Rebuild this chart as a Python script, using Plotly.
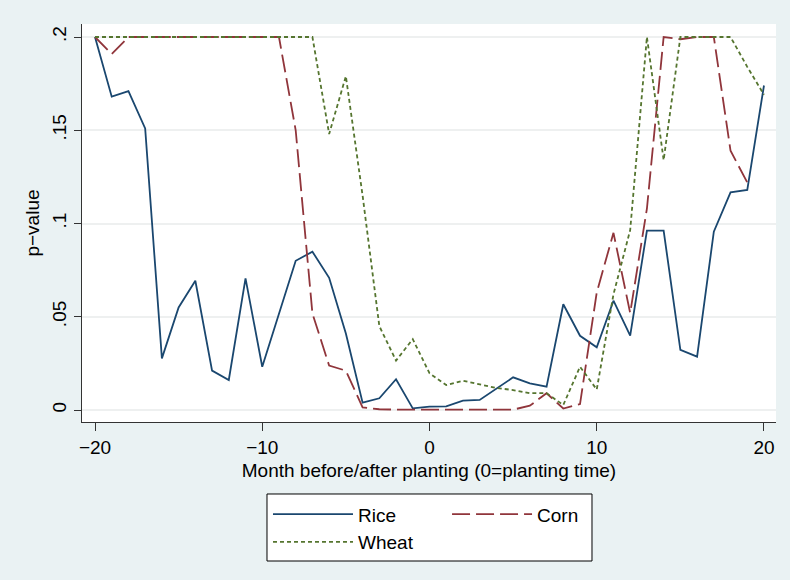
import plotly.graph_objects as go

months = list(range(-20, 21))

rice = [0.200, 0.168, 0.171, 0.151, 0.0277, 0.055, 0.0693, 0.0211, 0.0161, 0.0706,
        0.0232, 0.052, 0.080, 0.0849, 0.0709, 0.041, 0.0039, 0.0063, 0.0165, 0.0009,
        0.0018, 0.002, 0.005, 0.0054, 0.0114, 0.0175, 0.0143, 0.0125, 0.0567, 0.0398,
        0.0336, 0.0586, 0.0399, 0.0962, 0.0962, 0.0322, 0.0286, 0.0956, 0.1167, 0.118,
        0.174]

corn = [0.200, 0.1909, 0.200, 0.200, 0.200, 0.200, 0.200, 0.200, 0.200, 0.200,
        0.200, 0.200, 0.150, 0.0518, 0.0238, 0.0211, 0.0014, 0.0004, 0.0002, 0.0002,
        0.0002, 0.0002, 0.0001, 0.0001, 0.0001, 0.0002, 0.0023, 0.009, 0.0008, 0.0032,
        0.063, 0.095, 0.052, 0.108, 0.200, 0.1988, 0.200, 0.200, 0.139, 0.122,
        None]

wheat = [0.200, 0.200, 0.200, 0.200, 0.200, 0.200, 0.200, 0.200, 0.200, 0.200,
         0.200, 0.200, 0.200, 0.200, 0.148, 0.179, 0.115, 0.045, 0.0265, 0.038,
         0.0197, 0.0134, 0.0157, 0.0138, 0.0118, 0.0107, 0.009, 0.009, 0.0027, 0.0232,
         0.011, 0.062, 0.0965, 0.200, 0.134, 0.200, 0.200, 0.200, 0.200, 0.184,
         0.169]

x_ticks = [-20, -10, 0, 10, 20]
x_ticktext = ["\u221220", "\u221210", "0", "10", "20"]
y_ticks = [0, 0.05, 0.1, 0.15, 0.2]
y_ticktext = ["0", ".05", ".1", ".15", ".2"]

FONT = "Liberation Sans, Arial, sans-serif"

fig = go.Figure()
fig.add_trace(go.Scatter(x=months, y=rice, name="Rice", mode="lines",
                         legend="legend",
                         line=dict(color="#1A476F", width=1.8)))
fig.add_trace(go.Scatter(x=months, y=corn, name="Corn", mode="lines",
                         legend="legend2",
                         line=dict(color="#90353B", width=1.8, dash="18px,6px")))
fig.add_trace(go.Scatter(x=months, y=wheat, name="Wheat", mode="lines",
                         legend="legend",
                         line=dict(color="#55752F", width=1.8, dash="4px,3px")))

legend_common = dict(
    yanchor="top", y=-0.184, xanchor="left",
    bgcolor="rgba(0,0,0,0)", borderwidth=0,
    itemwidth=80, orientation="v",
    font=dict(family=FONT, size=19, color="black"),
)

fig.update_layout(
    width=790, height=580,
    margin=dict(l=82, r=14, t=24, b=158),
    paper_bgcolor="#EAF2F3",
    plot_bgcolor="white",
    font=dict(family=FONT, size=19, color="black"),
    showlegend=True,
    legend=dict(x=0.2680, **legend_common),
    legend2=dict(x=0.5260, **legend_common),
    shapes=[dict(type="rect", xref="paper", yref="paper",
                 x0=0.26657, x1=0.73487, y0=-0.34925, y1=-0.18090,
                 fillcolor="white", line=dict(color="black", width=1),
                 layer="below")],
)

fig.update_xaxes(
    range=[-20.777, 20.718],
    tickvals=x_ticks, ticktext=x_ticktext,
    showgrid=False, zeroline=False,
    showline=True, linecolor="#333333", linewidth=1.3,
    ticks="outside", ticklen=8, tickcolor="#333333",
    title=dict(text="Month before/after planting (0=planting time)", standoff=6,
               font=dict(family=FONT, size=19)),
)
fig.update_yaxes(
    range=[-0.00643, 0.20697],
    tickvals=y_ticks, ticktext=y_ticktext, tickangle=-90,
    showgrid=True, gridcolor="#EEF0F0", gridwidth=1.5,
    zeroline=False,
    showline=True, linecolor="#333333", linewidth=1.3,
    ticks="outside", ticklen=7, tickcolor="#333333",
    title=dict(text="p\u2212value", standoff=4, font=dict(family=FONT, size=19)),
)

fig.write_html(
    "out.html",
    config={"displayModeBar": False},
    post_script="document.body.style.margin='0px';document.body.style.padding='0px';"
                "document.body.style.background='#EAF2F3';",
)
